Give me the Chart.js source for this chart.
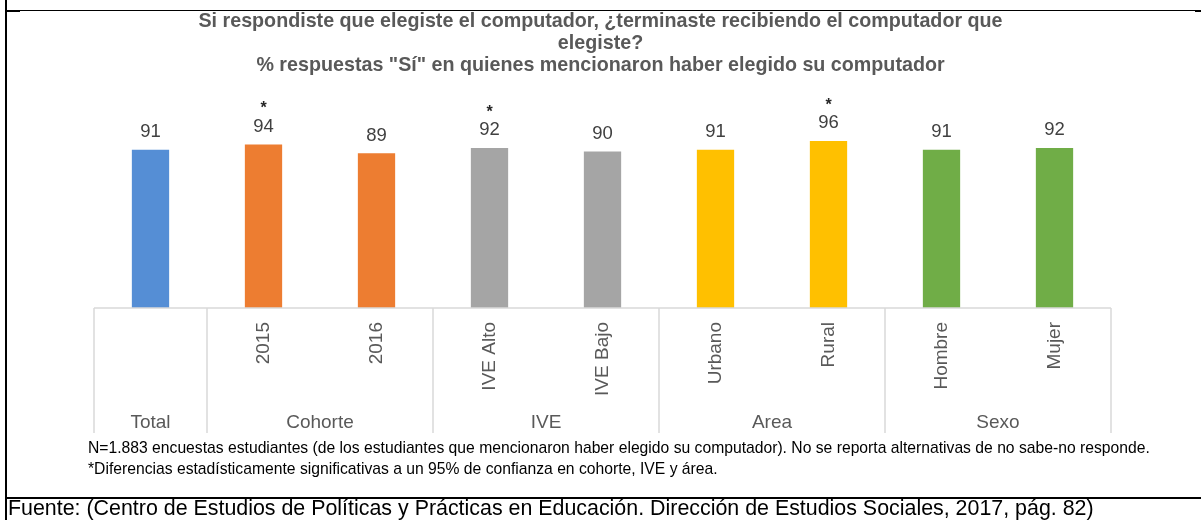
<!DOCTYPE html>
<html lang="es">
<head>
    <meta charset="UTF-8">
    <title>Computador elegido</title>
    <style>
        body {
            margin: 0;
            width: 1201px;
            height: 520px;
            overflow: hidden;
            background: #fff;
            font-family: "Liberation Sans", Arial, sans-serif;
        }
        .page {
            position: relative;
            width: 1201px;
            height: 520px;
        }
        canvas {
            position: absolute;
            left: 0;
            top: 0;
        }
        .line {
            position: absolute;
            background: #000;
        }
        .title {
            position: absolute;
            left: 0;
            top: 9px;
            width: 1201px;
            text-align: center;
            font-weight: bold;
            font-size: 19.7px;
            line-height: 22px;
            color: #595959;
        }
        .note {
            position: absolute;
            left: 88px;
            font-size: 15.7px;
            line-height: 20px;
            color: #000;
            white-space: nowrap;
        }
        .source {
            position: absolute;
            left: 8px;
            top: 496px;
            font-size: 21.4px;
            line-height: 24px;
            color: #000;
            white-space: nowrap;
        }
    </style>
</head>
<body>
<div class="page">
    <canvas id="chart" width="1201" height="520"></canvas>

    <!-- table borders -->
    <div class="line" style="left:5px; top:0; width:2px; height:520px;"></div>
    <div class="line" style="left:7px; top:10px; width:1188px; height:1px;"></div>
    <div class="line" style="left:7px; top:10px; width:13px; height:2px;"></div>
    <div class="line" style="left:1195px; top:10px; width:6px; height:2px;"></div>
    <div class="line" style="left:7px; top:497px; width:1194px; height:2px;"></div>

    <div class="title">
        Si respondiste que elegiste el computador, ¿terminaste recibiendo el computador que<br>
        elegiste?<br>
        % respuestas "Sí" en quienes mencionaron haber elegido su computador
    </div>

    <div class="note" style="top:438px;">N=1.883 encuestas estudiantes (de los estudiantes que mencionaron haber elegido su computador). No se reporta alternativas de no sabe-no responde.</div>
    <div class="note" style="top:459px;">*Diferencias estadísticamente significativas a un 95% de confianza en cohorte, IVE y área.</div>

    <div class="source">Fuente: (Centro de Estudios de Políticas y Prácticas en Educación. Dirección de Estudios Sociales, 2017, pág. 82)</div>
</div>

<script src="https://cdn.jsdelivr.net/npm/chart.js"></script>
<script>
    // DATA
    const categories = ['Total', '2015', '2016', 'IVE Alto', 'IVE Bajo', 'Urbano', 'Rural', 'Hombre', 'Mujer'];
    const tickLabels = ['', '2015', '2016', 'IVE Alto', 'IVE Bajo', 'Urbano', 'Rural', 'Hombre', 'Mujer'];
    const groups = ['Total', 'Cohorte', 'IVE', 'Area', 'Sexo'];
    const groupSizes = [1, 2, 2, 2, 2];
    const values = [91, 94, 89, 92, 90, 91, 96, 91, 92];
    const significant = [false, true, false, true, false, false, true, false, false];
</script>
<script>
    const barColors = ['#558ed5', '#ed7d31', '#ed7d31', '#a5a5a5', '#a5a5a5', '#ffc000', '#ffc000', '#70ad47', '#70ad47'];
    const labelColor = '#595959';

    // axis box, tick labels, group labels, value labels
    const axisPlugin = {
        id: 'axisBox',
        afterDraw(chart) {
            const ctx = chart.ctx;
            const x = chart.scales.x;
            const y = chart.scales.y;
            const base = y.getPixelForValue(0);
            const boxBottom = 433;

            ctx.save();
            ctx.strokeStyle = '#d9d9d9';
            ctx.lineWidth = 1.5;
            ctx.beginPath();
            ctx.moveTo(x.left, base);
            ctx.lineTo(x.right, base);

            // group boundaries
            let start = 0;
            const bounds = [x.left];
            groupSizes.forEach((n) => {
                const end = start + n;
                const right = end >= categories.length ? x.right
                    : (x.getPixelForValue(end - 1) + x.getPixelForValue(end)) / 2;
                bounds.push(right);
                start = end;
            });
            bounds.forEach(b => {
                ctx.moveTo(b, base);
                ctx.lineTo(b, boxBottom);
            });
            ctx.stroke();

            // group labels
            ctx.fillStyle = labelColor;
            ctx.font = '19px "Liberation Sans", Arial, sans-serif';
            ctx.textAlign = 'center';
            ctx.textBaseline = 'alphabetic';
            groups.forEach((name, g) => {
                ctx.fillText(name, (bounds[g] + bounds[g + 1]) / 2, 428);
            });

            // rotated tick labels
            tickLabels.forEach((lbl, i) => {
                if (!lbl) return;
                ctx.save();
                ctx.translate(x.getPixelForValue(i), base + 14);
                ctx.rotate(-Math.PI / 2);
                ctx.textAlign = 'right';
                ctx.textBaseline = 'middle';
                ctx.fillText(lbl, 0, 0);
                ctx.restore();
            });

            // value labels and significance stars
            const meta = chart.getDatasetMeta(0);
            meta.data.forEach((bar, i) => {
                ctx.fillStyle = '#404040';
                ctx.font = '18.5px "Liberation Sans", Arial, sans-serif';
                ctx.textAlign = 'center';
                ctx.textBaseline = 'alphabetic';
                ctx.fillText(String(values[i]), bar.x, bar.y - 12.5);
                if (significant[i]) {
                    ctx.fillStyle = '#262626';
                    ctx.font = 'bold 16px "Liberation Sans", Arial, sans-serif';
                    ctx.fillText('*', bar.x, bar.y - 31);
                }
            });
            ctx.restore();
        }
    };

    new Chart(document.getElementById('chart'), {
        type: 'bar',
        data: {
            labels: categories,
            datasets: [{
                data: values,
                backgroundColor: barColors,
                borderWidth: 0,
                categoryPercentage: 1,
                barPercentage: 0.33
            }]
        },
        options: {
            responsive: false,
            animation: false,
            devicePixelRatio: 1,
            layout: {
                padding: { left: 94, right: 90, top: 134, bottom: 212 }
            },
            scales: {
                x: { display: false, offset: true },
                y: { display: false, min: 0, max: 100 }
            },
            plugins: {
                legend: { display: false },
                tooltip: { enabled: false }
            }
        },
        plugins: [axisPlugin]
    });
</script>
</body>
</html>
